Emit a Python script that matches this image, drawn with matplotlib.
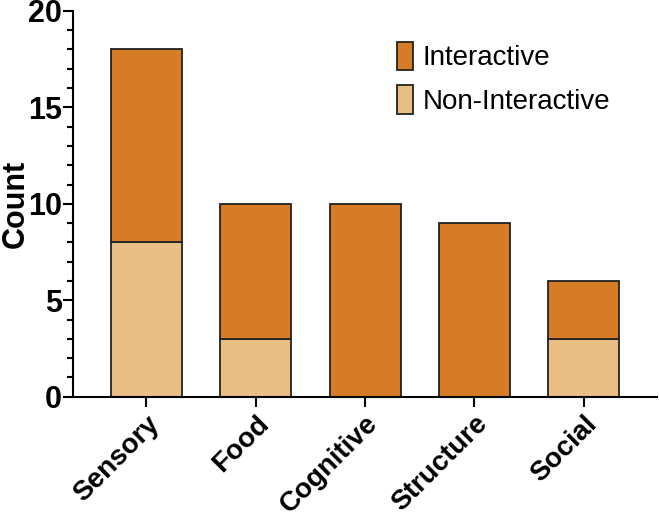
import numpy as np
import matplotlib.pyplot as plt
from matplotlib.ticker import MultipleLocator
from matplotlib.patches import Patch

categories = ['Sensory', 'Food', 'Cognitive', 'Structure', 'Social']
non_interactive = [8, 3, 0, 0, 3]
interactive = [10, 7, 10, 9, 3]

col_inter = '#D67C27'
col_non = '#EABF86'

plt.rcParams['font.family'] = ['Liberation Sans', 'DejaVu Sans']

fig = plt.figure(figsize=(6.59, 5.18), dpi=100)
ax = fig.add_axes([0.111, 0.234, 0.886, 0.745])

x = np.arange(len(categories))
ax.bar(x, non_interactive, width=0.65, color=col_non, edgecolor='#222222', linewidth=1.3, zorder=2)
ax.bar(x, interactive, width=0.65, bottom=non_interactive, color=col_inter, edgecolor='#222222', linewidth=1.3, zorder=2)

ax.set_xlim(-0.67, 4.67)
ax.set_ylim(0, 20)
ax.yaxis.set_major_locator(MultipleLocator(5))
ax.yaxis.set_minor_locator(MultipleLocator(1))

for s in ['top', 'right']:
    ax.spines[s].set_visible(False)
for s in ['left', 'bottom']:
    ax.spines[s].set_linewidth(1.5)

ax.tick_params(axis='both', which='major', length=7, width=1.5, labelsize=22)
ax.tick_params(axis='y', which='major', pad=1)
ax.tick_params(axis='y', which='minor', length=4, width=1.5)
ax.tick_params(axis='x', which='major', pad=3, labelsize=20)
ax.set_xticks(x)
ax.set_xticklabels(categories, rotation=45, ha='right', rotation_mode='anchor', fontweight='bold')
for lab in ax.get_yticklabels():
    lab.set_fontweight('bold')

ax.set_ylabel('Count', fontsize=22, fontweight='bold')
ax.yaxis.set_label_coords(-0.073, 0.5)

handles = [Patch(facecolor=col_inter, edgecolor='#222222', linewidth=1.3, label='Interactive'),
           Patch(facecolor=col_non, edgecolor='#222222', linewidth=1.3, label='Non-Interactive')]
ax.legend(handles=handles, loc='upper left', bbox_to_anchor=(0.565, 0.968), bbox_transform=fig.transFigure,
          frameon=False, fontsize=20, handlelength=0.55, handleheight=1.2, handletextpad=0.35,
          labelspacing=0.5)

fig.savefig('out.png', dpi=100)
